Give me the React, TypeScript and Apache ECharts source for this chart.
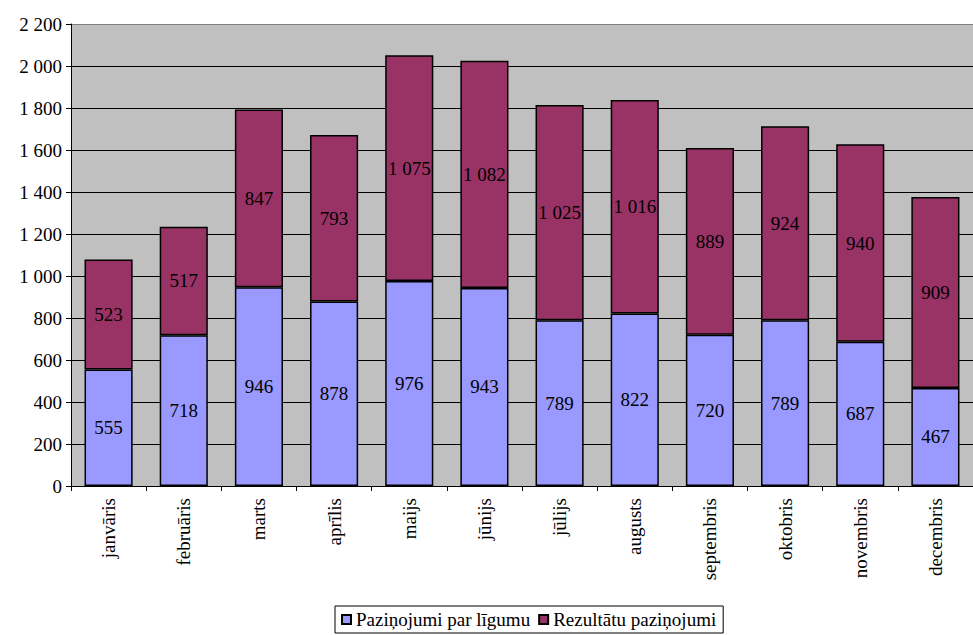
import React, { useEffect, useRef } from "react";
import * as echarts from "echarts";

const categories = ["janvāris", "februāris", "marts", "aprīlis", "maijs", "jūnijs", "jūlijs", "augusts", "septembris", "oktobris", "novembris", "decembris"];
const ligumi = [555, 718, 946, 878, 976, 943, 789, 822, 720, 789, 687, 467];
const rezultati = [523, 517, 847, 793, 1075, 1082, 1025, 1016, 889, 924, 940, 909];
const seriesNames = ["Paziņojumi par līgumu", "Rezultātu paziņojumi"];

const FONT = "Times New Roman";
const fmt = (v: number) => String(v).replace(/\B(?=(\d{3})+(?!\d))/g, " ");

export default function App() {
  const ref = useRef<HTMLDivElement>(null);
  useEffect(() => {
    if (!ref.current) return;
    const chart = echarts.init(ref.current, undefined, { renderer: "svg" });
    const splitColors = Array.from({ length: 12 }, (_, i) => (i === 11 ? "#808080" : "#000000"));
    const labelCfg = {
      show: true,
      position: "inside" as const,
      color: "#000",
      fontFamily: FONT,
      fontSize: 19,
      formatter: (p: any) => fmt(p.value),
    };
    chart.setOption({
      animation: false,
      backgroundColor: "#ffffff",
      textStyle: { fontFamily: FONT },
      grid: { left: 71, top: 24, width: 906, height: 462, backgroundColor: "#C0C0C0", show: true, borderWidth: 0 },
      legend: {
        bottom: 2,
        left: 335,
        icon: "rect",
        itemWidth: 9,
        itemHeight: 9,
        itemGap: 8,
        padding: [4, 7, 4, 6],
        borderColor: "#000",
        borderWidth: 1,
        textStyle: { fontFamily: FONT, fontSize: 19, color: "#000", padding: [0, 0, 0, 0] },
        data: seriesNames,
      },
      xAxis: {
        type: "category",
        data: categories,
        axisLine: { lineStyle: { color: "#000", width: 1 } },
        axisTick: { show: true, length: 5, lineStyle: { color: "#000" } },
        axisLabel: { rotate: 90, fontFamily: FONT, fontSize: 19, color: "#000", margin: 12 },
      },
      yAxis: {
        type: "value",
        min: 0,
        max: 2200,
        interval: 200,
        axisLine: { show: true, lineStyle: { color: "#000", width: 1 } },
        axisTick: { show: true, length: 5, lineStyle: { color: "#000" } },
        axisLabel: { fontFamily: FONT, fontSize: 19, color: "#000", margin: 9, formatter: (v: number) => fmt(v) },
        splitLine: { show: true, lineStyle: { color: splitColors, width: 1 } },
      },
      series: [
        {
          name: seriesNames[0],
          type: "bar",
          stack: "total",
          data: ligumi,
          barCategoryGap: "36%",
          itemStyle: { color: "#9999FF", borderColor: "#000", borderWidth: 1.5 },
          label: labelCfg,
        },
        {
          name: seriesNames[1],
          type: "bar",
          stack: "total",
          data: rezultati,
          barCategoryGap: "36%",
          itemStyle: { color: "#993366", borderColor: "#000", borderWidth: 1.5 },
          label: labelCfg,
        },
      ],
    });
    return () => chart.dispose();
  }, []);
  return <div ref={ref} style={{ position: "fixed", left: 0, top: 0, width: 973, height: 635 }} />;
}
